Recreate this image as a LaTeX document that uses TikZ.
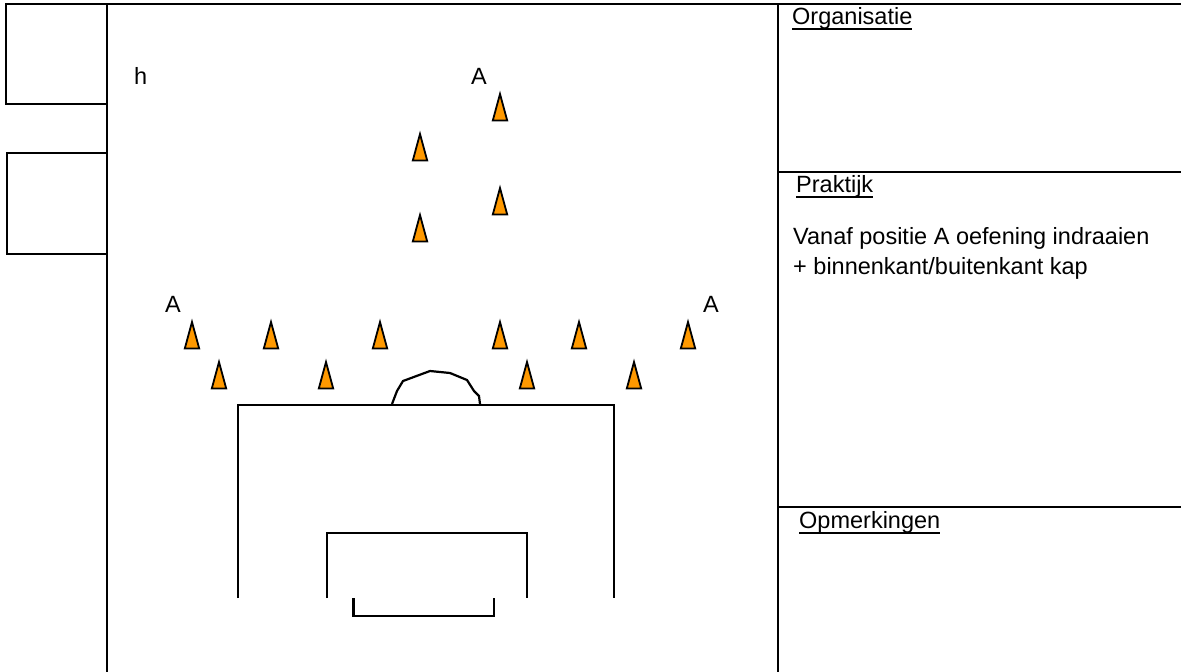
\documentclass[tikz,border=0pt]{standalone}
\usepackage{fontspec}
\setmainfont{Liberation Sans}
\usepackage{xcolor}
\usepackage{tikz}
\definecolor{coneorange}{RGB}{255,153,0}
\newcommand{\headtext}[1]{\setbox0\hbox{#1}\rlap{\rule[-6pt]{\wd0}{2pt}}#1}
\tikzset{
  plan/.style={draw, line width=2.2pt, line join=miter},
  cone/.style={draw, line width=1.8pt, line join=miter, fill=coneorange},
  label/.style={inner sep=0pt, anchor=base west, font=\fontsize{23.5}{28}\selectfont}
}

\begin{document}
\begin{tikzpicture}[x=1pt, y=-1pt]
  \useasboundingbox (0,0) rectangle (1181,672);

  % field and side panels
  \draw[plan] (6,4) -- (1181,4);
  \draw[plan] (107,4) -- (107,672);
  \draw[plan] (778,4) -- (778,672);
  \draw[plan] (778,172) -- (1181,172);
  \draw[plan] (778,507) -- (1181,507);
  \draw[plan] (6,4) rectangle (107,104);
  \draw[plan] (7,153) rectangle (107,254);

  % penalty area and goal
  \draw[plan] (238,598) -- (238,405) -- (614,405) -- (614,598);
  \draw[plan] (327,598) -- (327,533) -- (527,533) -- (527,598);
  \draw[plan] (353.5,598) -- (353.5,616) -- (494,616) -- (494,598);
  \draw[plan] (392,404) -- (397,391) -- (403,381) -- (430,371) -- (450,373)
    -- (467,380) -- (474,391) -- (479,396) -- (480,404);

  % cones
  \foreach \x/\y in {500/120.5, 420/160.5, 500/214.5, 420/241.5,
                     192/348.5, 271/348.5, 380/348.5, 500/348.5, 579/348.5, 688/348.5,
                     219/388.5, 326/388.5, 527/388.5, 634/388.5} {
    \draw[cone] (\x-7.2,\y) -- (\x,\y-26.5) -- (\x+7.2,\y) -- cycle;
  }

  \node[label] (h) at (134,84) {h};
  \node[label] (atop) at (471,84) {A};
  \node[label] (aleft) at (165,312) {A};
  \node[label] (aright) at (703,312) {A};

  \node[label] (organisatie) at (792,24) {\headtext{Organisatie}};
  \node[label] (praktijk) at (796,192) {\headtext{Praktijk}};
  \node[label] (vanaf) at (793,244) {Vanaf positie A oefening indraaien};
  \node[label] (binnenkant) at (793,274) {+ binnenkant/buitenkant kap};
  \node[label] (opmerkingen) at (799,528) {\headtext{Opmerkingen}};
\end{tikzpicture}
\end{document}
